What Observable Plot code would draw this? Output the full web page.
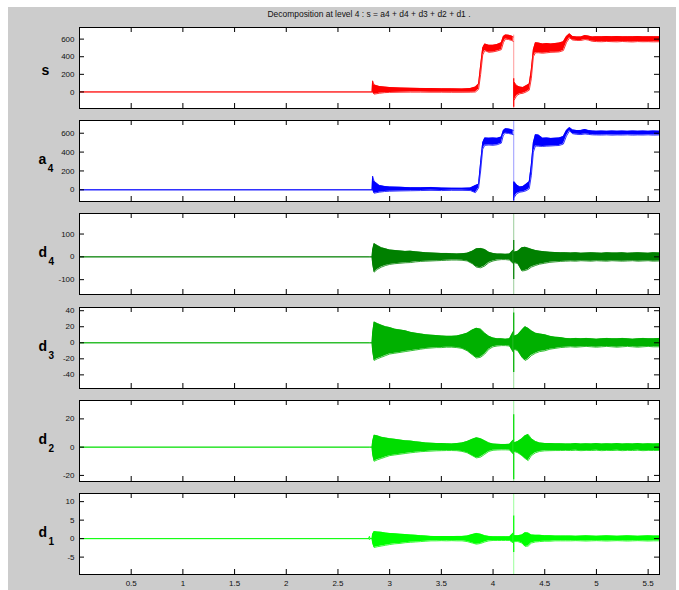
<!DOCTYPE html>
<html>
<head>
<meta charset="utf-8">
<script src="https://cdn.jsdelivr.net/npm/d3@7"></script>
<script src="https://cdn.jsdelivr.net/npm/@observablehq/plot@0.6"></script>
<style>
  body { margin: 0; background: #fff; }
  #fig { position: relative; width: 679px; height: 590px; overflow: hidden; background: #fff; }
  #bg { position: absolute; left: 8px; top: 7px; width: 668px; height: 583px; background: #cccccc; }
  .panel { position: absolute; left: 0; }
  #labels { position: absolute; left: 0; top: 0; pointer-events: none; }
</style>
</head>
<body>
<div id="fig"><div id="bg"></div></div>
<script>
// Wavelet decomposition at level 4: s = a4 + d4 + d3 + d2 + d1
const titleText = "Decomposition at level 4 : s = a4 + d4 + d3 + d2 + d1 .";

// Shared time knots for the signal s and the approximation a4 (NaN at 4.2 breaks the band)
const xSA = [0, 2.83, 2.835, 2.85, 2.9, 2.95, 3.0, 3.1, 3.2, 3.3, 3.4, 3.5, 3.6, 3.7, 3.78, 3.83,
  3.86, 3.88, 3.9, 3.92, 3.96, 4.0, 4.04, 4.08, 4.1, 4.12, 4.15, 4.18, 4.195, 4.2, 4.205, 4.23,
  4.26, 4.29, 4.32, 4.35, 4.37, 4.39, 4.41, 4.44, 4.48, 4.52, 4.56, 4.6, 4.64, 4.68, 4.71,
  4.74, 4.77, 4.81, 4.85, 4.89, 4.92, 4.96, 5.0, 5.05, 5.1, 5.15, 5.2, 5.25, 5.3, 5.35, 5.4,
  5.45, 5.5, 5.55, 5.61];

// s : lower / upper envelope
const sLo = [0, 0, 0, -25, -15, -8, -5, -3, -2, -2, -3, -3, -4, -4, -3, 0,
  30, 200, 420, 470, 450, 455, 465, 480, 560, 600, 595, 585, 575, NaN, -90, -40,
  -20, -15, 0, 20, 150, 400, 445, 445, 440, 445, 450, 452, 455, 470, 560,
  615, 590, 585, 585, 595, 590, 575, 572, 570, 574, 571, 569, 573, 570, 568, 572,
  570, 571, 569, 570];
const sHi = [0, 0, 126, 80, 62, 55, 50, 45, 42, 40, 38, 36, 35, 34, 38, 55,
  90, 300, 500, 545, 530, 530, 540, 560, 630, 648, 645, 635, 625, NaN, 110, 70,
  55, 50, 70, 90, 250, 480, 560, 555, 545, 550, 545, 550, 555, 570, 630,
  660, 630, 625, 625, 640, 635, 625, 628, 626, 629, 627, 630, 626, 628, 627, 629,
  626, 628, 627, 626];

// a4 : lower / upper envelope
const a4Lo = [0, 0, 0, -36, -25, -18, -15, -12, -10, -8, -6, -8, -6, -6, -8, -30,
  20, 200, 430, 472, 475, 472, 478, 495, 580, 600, 598, 590, 585, NaN, -80, -40,
  -25, -20, -10, 10, 150, 400, 465, 462, 460, 463, 465, 468, 470, 485, 570,
  625, 595, 588, 586, 592, 588, 583, 582, 581, 583, 580, 582, 581, 583, 580, 582,
  581, 583, 580, 582];
const a4Hi = [0, 0, 145, 90, 47, 36, 30, 27, 22, 21, 25, 18, 17, 16, 19, 45,
  60, 290, 500, 550, 548, 550, 546, 560, 630, 648, 645, 638, 630, NaN, 85, 50,
  30, 35, 60, 85, 260, 500, 585, 580, 548, 550, 545, 548, 550, 565, 630,
  660, 635, 628, 630, 640, 630, 624, 622, 623, 621, 624, 622, 623, 621, 624, 622,
  623, 621, 624, 622];

// Time knots for the detail coefficients d4 .. d1
const xD = [0, 2.8, 2.805, 2.81, 2.83, 2.835, 2.85, 2.88, 2.92, 2.96, 3.0, 3.05, 3.1, 3.15,
  3.2, 3.25, 3.3, 3.35, 3.4, 3.45, 3.5, 3.55, 3.6, 3.65, 3.7, 3.75, 3.8, 3.84, 3.88, 3.92,
  3.96, 4.0, 4.04, 4.08, 4.12, 4.16, 4.197, 4.2, 4.203, 4.24, 4.28, 4.31, 4.34, 4.37, 4.41,
  4.45, 4.5, 4.55, 4.6, 4.65, 4.7, 4.75, 4.8, 4.85, 4.9, 4.95, 5.0, 5.05, 5.1, 5.15, 5.2,
  5.25, 5.3, 5.35, 5.4, 5.45, 5.5, 5.55, 5.61];

const d4Lo = [0, 0, 0, 0, 0, -30, -67, -55, -45, -38, -33, -30, -28, -26,
  -25, -22, -20, -19, -18, -17, -16, -15, -14, -14, -15, -18, -30, -45, -48, -40,
  -25, -18, -14, -12, -12, -14, -30, NaN, -25, -30, -62, -60, -55, -45, -38,
  -32, -28, -24, -22, -20, -19, -18, -19, -17, -18, -19, -17, -18, -19, -17, -18,
  -19, -18, -17, -19, -18, -17, -19, -18];
const d4Hi = [0, 0, 0, 0, 0, 30, 58, 50, 40, 35, 30, 28, 26, 24,
  25, 22, 20, 18, 17, 16, 15, 15, 14, 13, 14, 16, 25, 35, 37, 32,
  20, 15, 12, 12, 11, 12, 30, NaN, 20, 25, 40, 42, 38, 33, 28,
  25, 22, 20, 19, 18, 18, 17, 18, 16, 17, 18, 17, 16, 18, 17, 17,
  18, 16, 17, 18, 17, 16, 18, 17];

const d3Lo = [0, 0, 0, 0, 0, -10, -22, -20, -18, -16, -14, -13, -12, -11,
  -10, -9, -8, -7, -6.5, -6, -6, -5.5, -5.5, -6, -7, -10, -15, -19, -18, -14,
  -8, -5, -4, -3.5, -3.5, -4, -12, NaN, -8, -10, -18, -22, -20, -16, -13,
  -11, -10, -8, -7, -6, -5.5, -5, -5.5, -5, -4.5, -5, -5.5, -5, -4.5, -5, -5.5,
  -5, -4.5, -5, -5.5, -5, -4.5, -5, -5];
const d3Hi = [0, 0, 0, 0, 0, 12, 26, 24, 22, 20, 19, 17, 16, 15,
  13, 12, 11, 10, 9.5, 9, 8.5, 8, 8, 8.5, 10, 12, 16, 18, 17, 12,
  8, 6, 5, 5, 4.5, 5, 14, NaN, 8, 10, 16, 20, 18, 15, 12,
  11, 10, 8, 7, 6.5, 5.5, 5, 5.5, 5, 5.5, 5, 4.5, 5, 5.5, 5, 5,
  5.5, 5, 4.5, 5, 5.5, 5, 5, 5.5];

const d2Lo = [0, 0, 0, 0, 0, -5, -10, -9, -8, -7, -6, -5.5, -5, -4.5,
  -4, -3.6, -3.2, -3, -2.8, -2.6, -2.5, -2.4, -2.4, -2.5, -3, -4, -6, -7.6, -7, -5,
  -3, -2.2, -2, -1.9, -1.9, -2, -5, NaN, -3, -4, -6, -8, -9.5, -6, -4,
  -3, -2.6, -2.5, -2.4, -2.4, -2.3, -2.4, -2.2, -2.5, -2.3, -2.4, -2.2, -2.5, -2.3, -2.4, -2.2,
  -2.5, -2.3, -2.4, -2.2, -2.5, -2.3, -2.4, -2.3];
const d2Hi = [0, 0, 0, 0, 0, 4, 8.5, 8, 7, 6.5, 6, 5.5, 5, 4.5,
  4.3, 3.8, 3.4, 3, 2.8, 2.6, 2.5, 2.4, 2.3, 2.5, 3, 4, 5.5, 6.6, 6, 4.5,
  3, 2.2, 2, 1.9, 1.9, 2, 5, NaN, 3, 4, 6, 8, 9, 6, 4,
  3, 2.6, 2.5, 2.4, 2.4, 2.3, 2.3, 2.5, 2.2, 2.4, 2.3, 2.5, 2.2, 2.4, 2.3, 2.5,
  2.2, 2.4, 2.3, 2.5, 2.2, 2.4, 2.3, 2.4];

const d1Lo = [0, 0, -0.3, 0, 0, -1.2, -2.4, -2.2, -2, -1.8, -1.6, -1.4, -1.3, -1.1,
  -1, -0.9, -0.8, -0.7, -0.6, -0.6, -0.55, -0.6, -0.55, -0.6, -0.6, -0.8, -1.2, -1.5, -1.3, -0.9,
  -0.6, -0.5, -0.5, -0.5, -0.5, -0.5, -1.2, NaN, -0.8, -0.8, -1.2, -2.1, -2, -1.2, -0.9,
  -0.8, -0.7, -0.7, -0.6, -0.6, -0.6, -0.6, -0.55, -0.6, -0.65, -0.6, -0.55, -0.6, -0.65, -0.6, -0.55,
  -0.6, -0.65, -0.6, -0.55, -0.6, -0.65, -0.6, -0.6];
const d1Hi = [0, 0, 0.6, 0, 0, 1.2, 1.9, 1.8, 1.7, 1.5, 1.4, 1.3, 1.2, 1.1,
  1, 0.9, 0.8, 0.7, 0.6, 0.55, 0.55, 0.55, 0.55, 0.6, 0.6, 0.7, 1.1, 1.4, 1.2, 0.8,
  0.6, 0.5, 0.5, 0.5, 0.5, 0.5, 1.5, NaN, 0.8, 0.8, 1, 1.6, 1.5, 1, 0.9,
  0.9, 0.8, 0.8, 0.7, 0.7, 0.7, 0.7, 0.65, 0.7, 0.75, 0.7, 0.65, 0.7, 0.75, 0.7, 0.65,
  0.7, 0.75, 0.7, 0.65, 0.7, 0.75, 0.7, 0.7];

// Panel order: s, a4, d4, d3, d2, d1
const panelName = ["s", "a", "d", "d", "d", "d"];
const panelSub = ["", "4", "4", "3", "2", "1"];
const yLow = [-188, -124, -165, -57, -24.3, -9.7];
const yHigh = [732, 735, 190, 44, 33, 12.2];
const yTicks = [[0, 200, 400, 600], [0, 200, 400, 600], [-100, 0, 100],
  [-40, -20, 0, 20, 40], [-20, 0, 20], [-5, 0, 5, 10]];
const xTicks = [0.5, 1, 1.5, 2, 2.5, 3, 3.5, 4, 4.5, 5, 5.5];
const xMax = 5.61;

// Single-sample transient at t = 4.2: full swing and its dense core
const spikeT = 4.2;
const spikeLo = [-188, -124, -165, -57, -24.3, -9.7];
const spikeHi = [645, 735, 190, 44, 33, 12.2];
const coreLo = [-175, -120, -99, -37, -23, -3.75];
const coreHi = [150, 80, 72, 37, 23, 6.1];

const colors = ["#ff0000", "#0000ff", "#008000", "#00b000", "#00dd00", "#00ff00"];

const series = [
  [xSA, sLo, sHi], [xSA, a4Lo, a4Hi], [xD, d4Lo, d4Hi],
  [xD, d3Lo, d3Hi], [xD, d2Lo, d2Hi], [xD, d1Lo, d1Hi]
];

// Use a narrow face when one is available, otherwise plain Liberation Sans
function hasFont(name) {
  const ctx = document.createElement("canvas").getContext("2d");
  const probe = "Decomposition 0123456789";
  ctx.font = "20px monospace";
  const a = ctx.measureText(probe).width;
  ctx.font = `20px "${name}", monospace`;
  return ctx.measureText(probe).width !== a;
}
const narrow = hasFont("Liberation Sans Narrow");
const fontStack = narrow ? '"Liberation Sans Narrow", "Liberation Sans", Arial, sans-serif'
                         : '"Liberation Sans", Arial, sans-serif';
const tickFont = narrow ? "9.5px" : "8px";

const fig = document.getElementById("fig");
const panelTop0 = 27, panelStep = 93.2, panelH = 81;
const mLeft = 79, mRight = 20;
const frameW = 679 - mLeft - mRight;
const tick = 5;

series.forEach(([xs, lo, hi], i) => {
  if (xs.length !== lo.length || xs.length !== hi.length) throw new Error("length mismatch in panel " + i);
  const rows = xs.map((x, j) => ({x, lo: lo[j], hi: hi[j]}));
  const last = i === series.length - 1;
  const mb = last ? 17 : 1;
  const c = colors[i];
  const top = panelTop0 + i * panelStep;
  const marks = [
    Plot.frame({fill: "white"}),
    Plot.areaY(rows, {x: "x", y1: "lo", y2: "hi", fill: c}),
    Plot.lineY(rows, {x: "x", y: "hi", stroke: c, strokeWidth: 0.8}),
    Plot.lineY(rows, {x: "x", y: "lo", stroke: c, strokeWidth: 0.8}),
    Plot.ruleX([{t: spikeT, y1: spikeLo[i], y2: spikeHi[i]}], {x: "t", y1: "y1", y2: "y2", stroke: c, strokeOpacity: 0.4, clip: true}),
    Plot.ruleX([{t: spikeT, y1: coreLo[i], y2: coreHi[i]}], {x: "t", y1: "y1", y2: "y2", stroke: c, strokeWidth: 1.2, clip: true}),
    // inward ticks on all four sides
    Plot.tickX(xTicks, {x: d => d, stroke: "#000", insetBottom: panelH - tick}),
    Plot.tickX(xTicks, {x: d => d, stroke: "#000", insetTop: panelH - tick}),
    Plot.tickY(yTicks[i], {y: d => d, stroke: "#000", insetRight: frameW - tick}),
    Plot.tickY(yTicks[i], {y: d => d, stroke: "#000", insetLeft: frameW - tick}),
    Plot.axisY(yTicks[i], {anchor: "left", tickSize: 0, tickPadding: 5, label: null, tickFormat: d => String(d)}),
    Plot.frame({stroke: "#000"})
  ];
  if (last) marks.push(Plot.axisX(xTicks, {anchor: "bottom", tickSize: 0, tickPadding: 6, label: null, tickFormat: d => String(d)}));
  const svg = Plot.plot({
    width: 679,
    height: panelH + 1 + mb,
    marginLeft: mLeft, marginRight: mRight, marginTop: 1, marginBottom: mb,
    x: {domain: [0, xMax], axis: null},
    y: {domain: [yLow[i], yHigh[i]], axis: null},
    style: {background: "transparent", fontSize: tickFont, fontFamily: fontStack, color: "#111", overflow: "visible"},
    marks
  });
  svg.classList.add("panel");
  svg.style.top = (top - 1) + "px";
  fig.appendChild(svg);
});

// Title and y-axis names (with subscripts)
const ov = d3.select(fig).append("svg").attr("id", "labels").attr("width", 679).attr("height", 590)
  .style("font-family", fontStack);
ov.append("text").attr("x", 369).attr("y", 17).attr("text-anchor", "middle")
  .attr("font-size", 9.5).attr("fill", "#111")
  .attr("textLength", 203).attr("lengthAdjust", "spacingAndGlyphs").text(titleText);
panelName.forEach((nm, i) => {
  const c = panelTop0 + i * panelStep + panelH / 2;
  const t = ov.append("text").attr("font-weight", "bold").attr("font-size", 14);
  if (panelSub[i]) {
    t.attr("x", 38.5).attr("y", c + 3.5).text(nm);
    t.append("tspan").attr("font-size", 10).attr("dx", 1.5).attr("dy", 8).text(panelSub[i]);
  } else {
    t.attr("x", 41.5).attr("y", c + 7).text(nm);
  }
});
</script>
</body>
</html>
